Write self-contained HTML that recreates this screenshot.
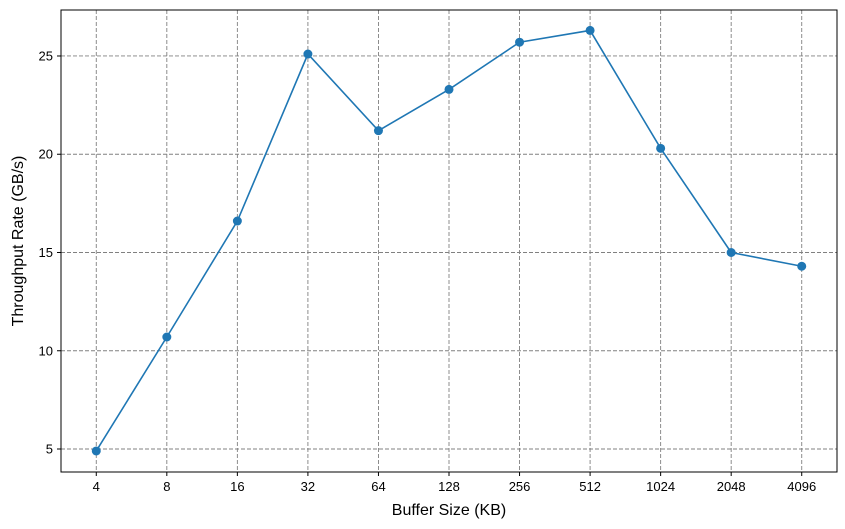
<!DOCTYPE html>
<html><head><meta charset="utf-8"><style>
html,body{margin:0;padding:0;background:#fff;}
svg{display:block;font-family:"Liberation Sans","DejaVu Sans",sans-serif;}
</style></head><body>
<svg id="chart" width="845" height="529" viewBox="0 0 845 529">
<rect x="0" y="0" width="845" height="529" fill="#fff"/>
<g id="grid"></g>
<g id="series"></g>
<rect x="61" y="10" width="776" height="462" fill="none" stroke="#000" stroke-width="1"/>
<g id="axes"></g>
<text x="449" y="515" font-size="16" text-anchor="middle">Buffer Size (KB)</text>
<text transform="translate(23,241) rotate(-90)" font-size="16" text-anchor="middle">Throughput Rate (GB/s)</text>
</svg>
<script>
const categories = ["4","8","16","32","64","128","256","512","1024","2048","4096"];
const throughput = [4.9,10.7,16.6,25.1,21.2,23.3,25.7,26.3,20.3,15.0,14.3];
const yTicks = [5,10,15,20,25];

const L=61,R=837,T=10,B=472;
const yMin=3.83,yMax=27.34;
const ns="http://www.w3.org/2000/svg";
function xs(i){return L+(i+0.5)*(R-L)/categories.length;}
function ys(v){return B-(v-yMin)/(yMax-yMin)*(B-T);}
function mk(tag,attrs,parent){const e=document.createElementNS(ns,tag);for(const k in attrs)e.setAttribute(k,attrs[k]);parent.appendChild(e);return e;}
const grid=document.getElementById('grid'),axes=document.getElementById('axes'),series=document.getElementById('series');
categories.forEach((c,i)=>{
  const x=xs(i);
  const g=mk('line',{x1:x,x2:x,y1:T,y2:B,stroke:'#808080','stroke-width':0.9,'stroke-dasharray':'4,2'},grid);
  
  
  const t=mk('line',{x1:x,x2:x,y1:B,y2:B+4,stroke:'#000'},axes);
  
  
  const l=mk('text',{x:x,y:B+19,'font-size':13,'text-anchor':'middle'},axes);
  l.textContent=c;
  
  
});
yTicks.forEach(v=>{
  const y=ys(v);
  const g=mk('line',{x1:L,x2:R,y1:y,y2:y,stroke:'#808080','stroke-width':0.9,'stroke-dasharray':'4,2'},grid);
  
  
  const t=mk('line',{x1:L-4,x2:L,y1:y,y2:y,stroke:'#000'},axes);
  
  
  const l=mk('text',{x:L-8,y:y+4.5,'font-size':13,'text-anchor':'end'},axes);
  l.textContent=v;
  
  
});
const pts=throughput.map((v,i)=>xs(i)+','+ys(v)).join(' ');
const pl=mk('polyline',{points:pts,fill:'none',stroke:'#1f77b4','stroke-width':1.6},series);


throughput.forEach((v,i)=>{
  const c=mk('circle',{cx:xs(i),cy:ys(v),r:4.5,fill:'#1f77b4'},series);
  
  
});
</script>
</body></html>
